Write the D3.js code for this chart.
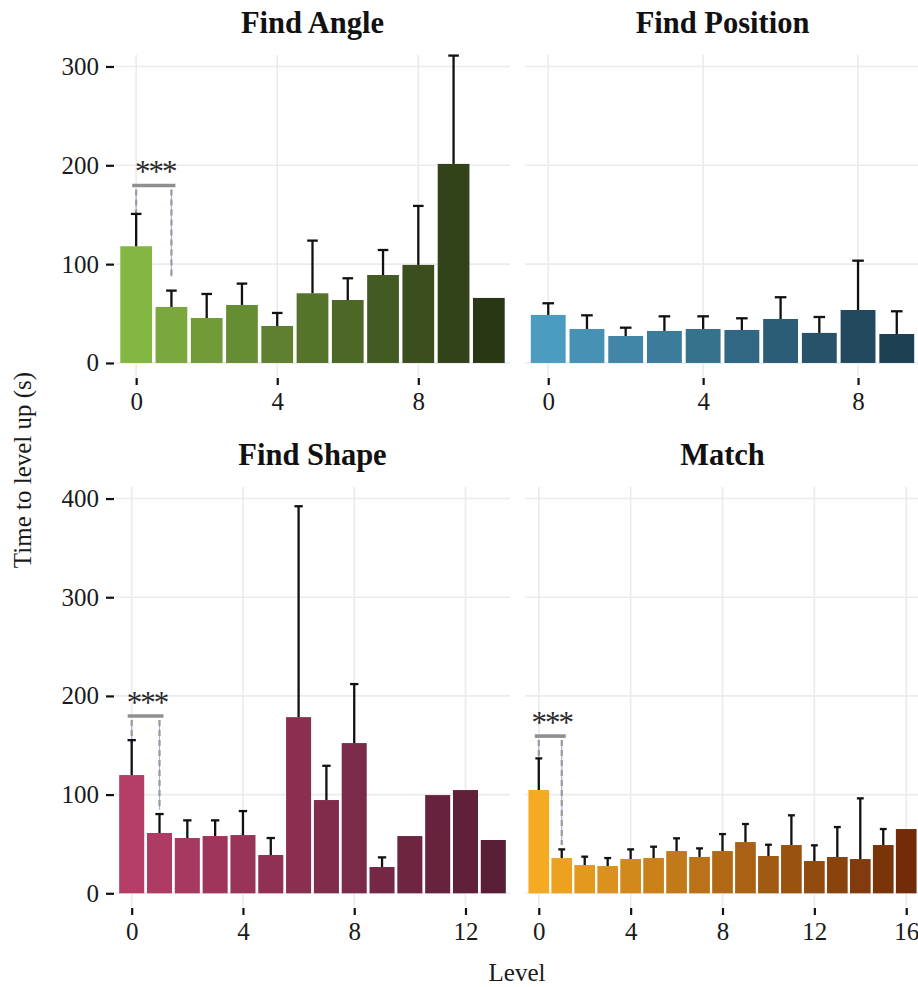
<!DOCTYPE html>
<html>
<head>
<meta charset="utf-8">
<script src="https://cdn.jsdelivr.net/npm/d3@7"></script>
<style>
  body { margin: 0; background: #fff; }
  text { font-family: "Liberation Serif", "Times New Roman", serif; }
</style>
</head>
<body>
<svg id="chart" width="918" height="987"></svg>
<script>
// Mean time to level up (s) per level, and the top of each error bar
const titles = ["Find Angle", "Find Position", "Find Shape", "Match"];

const angleMean  = [118.1, 56.7, 45.5, 58.7, 37.4, 70.5, 63.7, 89.0, 99.2, 201.4, 65.8];
const angleUpper = [150.8, 73.2, 69.8, 80.3, 50.6, 123.8, 85.7, 114.3, 158.9, 311.0, null];

const positionMean  = [48.6, 34.4, 27.3, 32.4, 34.4, 33.4, 44.5, 30.4, 53.6, 29.3];
const positionUpper = [60.4, 48.2, 35.7, 47.2, 47.2, 45.2, 66.5, 46.5, 103.5, 52.3];

const shapeMean  = [119.8, 61.1, 56.0, 58.0, 59.0, 38.8, 178.5, 94.5, 152.2, 26.6, 58.0, 99.5, 104.6, 54.0];
const shapeUpper = [155.2, 80.3, 73.9, 73.9, 83.3, 56.0, 392.2, 129.2, 212.0, 36.4, null, null, null, null];

const matchMean  = [104.6, 35.7, 28.6, 27.6, 34.7, 35.7, 42.8, 36.8, 42.8, 51.9, 37.8, 48.9, 32.7, 36.8, 34.7, 48.9, 65.1];
const matchUpper = [136.7, 44.5, 37.1, 35.7, 44.5, 47.2, 55.7, 45.5, 60.0, 70.2, 49.2, 79.0, 48.6, 67.1, 96.2, 65.1, null];

// Axis ticks
const yTicksTop    = [0, 100, 200, 300];
const yTicksBottom = [0, 100, 200, 300, 400];
const xTicksAngle    = [0, 4, 8];
const xTicksPosition = [0, 4, 8];
const xTicksShape    = [0, 4, 8, 12];
const xTicksMatch    = [0, 4, 8, 12, 16];

// Level 0 vs level 1 comparisons: bracket height and tip ends (s)
const sigLabels   = ["***", null, "***", "***"];
const sigBarY     = [179.6, null, 179.6, 159.3];
const sigTipLeft  = [151.8, null, 152.0, 135.0];
const sigTipRight = [87.3, null, 84.5, 49.0];

// Colour ramps (light to dark) for each game
const rampAngle    = ["#84b642", "#2a3715"];
const rampPosition = ["#4b9cc1", "#1e4053"];
const rampShape    = ["#b43e68", "#591e36"];
const rampMatch    = ["#f4aa22", "#722c09"];

const panels = [
  { title: titles[0], mean: angleMean,    upper: angleUpper,    xTicks: xTicksAngle,    ramp: rampAngle,    row: 0, col: 0 },
  { title: titles[1], mean: positionMean, upper: positionUpper, xTicks: xTicksPosition, ramp: rampPosition, row: 0, col: 1 },
  { title: titles[2], mean: shapeMean,    upper: shapeUpper,    xTicks: xTicksShape,    ramp: rampShape,    row: 1, col: 0 },
  { title: titles[3], mean: matchMean,    upper: matchUpper,    xTicks: xTicksMatch,    ramp: rampMatch,    row: 1, col: 1 }
];

// Panel geometry
const colX = [[115, 510], [525, 920]];
const rowY = [[55, 377], [487, 907]];
const rowDomain = [[-14.2, 311.6], [-13.9, 411.7]];
const rowTicks = [yTicksTop, yTicksBottom];

const svg = d3.select("#chart");
const gridColor = "#ebebeb";

panels.forEach((p, i) => {
  const [x0, x1] = colX[p.col];
  const [yTop, yBot] = rowY[p.row];
  const n = p.mean.length;

  const x = d3.scaleLinear().domain([-0.6, n - 1 + 0.6]).range([x0, x1]);
  const y = d3.scaleLinear().domain(rowDomain[p.row]).range([yBot, yTop]);
  const color = d3.scaleLinear().domain([0, n - 1]).range(p.ramp).interpolate(d3.interpolateLab);

  const g = svg.append("g");

  // grid
  g.selectAll(".hgrid").data(rowTicks[p.row]).join("line")
    .attr("x1", x0).attr("x2", x1)
    .attr("y1", d => y(d)).attr("y2", d => y(d))
    .attr("stroke", gridColor).attr("stroke-width", 1.6);
  g.selectAll(".vgrid").data(p.xTicks).join("line")
    .attr("x1", d => x(d)).attr("x2", d => x(d))
    .attr("y1", yTop).attr("y2", yBot)
    .attr("stroke", gridColor).attr("stroke-width", 1.6);

  // bars
  const bw = 0.9;
  g.selectAll(".bar").data(p.mean).join("rect")
    .attr("x", (d, k) => x(k - bw / 2))
    .attr("width", (d, k) => x(k + bw / 2) - x(k - bw / 2))
    .attr("y", d => y(d))
    .attr("height", d => y(0) - y(d))
    .attr("fill", (d, k) => color(k));

  // significance bracket
  if (sigLabels[i]) {
    const bx0 = x(0), bx1 = x(1), by = y(sigBarY[i]);
    const tips = [[bx0, sigTipLeft[i]], [bx1, sigTipRight[i]]];
    g.selectAll(".tipBase").data(tips).join("line")
      .attr("x1", d => d[0]).attr("x2", d => d[0])
      .attr("y1", by + 4).attr("y2", d => y(d[1]))
      .attr("stroke", "#b2acea").attr("stroke-width", 1.2);
    g.selectAll(".tipDash").data(tips).join("line")
      .attr("x1", d => d[0]).attr("x2", d => d[0])
      .attr("y1", by + 4).attr("y2", d => y(d[1]))
      .attr("stroke", "#9a9a9a").attr("stroke-width", 2.2)
      .attr("stroke-dasharray", "6,4");
    g.append("line")
      .attr("x1", bx0 - 4).attr("x2", bx1 + 4)
      .attr("y1", by).attr("y2", by)
      .attr("stroke", "#8f8f8f").attr("stroke-width", 3.6);
    g.append("text")
      .attr("x", (bx0 + bx1) / 2 + 1.5).attr("y", by - 3)
      .attr("text-anchor", "middle")
      .attr("font-family", "DejaVu Serif, serif")
      .attr("font-size", 31).attr("letter-spacing", -2).attr("fill", "#2a2a2a")
      .text(sigLabels[i]);
  }

  // error bars (upper half only)
  const errs = p.mean.map((m, k) => ({ k, m, u: p.upper[k] })).filter(d => d.u != null);
  const capHalf = 0.15;
  g.selectAll(".err").data(errs).join("line")
    .attr("x1", d => x(d.k)).attr("x2", d => x(d.k))
    .attr("y1", d => y(d.m)).attr("y2", d => y(d.u))
    .attr("stroke", "#111").attr("stroke-width", 2.3);
  g.selectAll(".cap").data(errs).join("line")
    .attr("x1", d => x(d.k - capHalf)).attr("x2", d => x(d.k + capHalf))
    .attr("y1", d => y(d.u)).attr("y2", d => y(d.u))
    .attr("stroke", "#111").attr("stroke-width", 2.3);

  // x axis
  const xAxis = d3.axisBottom(x).tickValues(p.xTicks).tickFormat(d3.format("d"))
    .tickSize(7).tickPadding(7);
  const gx = g.append("g").attr("transform", `translate(0,${yBot + 1})`).call(xAxis);
  gx.select(".domain").remove();
  gx.selectAll(".tick line").attr("stroke", "#111").attr("stroke-width", 2.2);
  gx.selectAll(".tick text").attr("font-size", 25).attr("fill", "#1a1a1a")
    .attr("font-family", "Liberation Serif, serif");

  // y axis (left column only)
  if (p.col === 0) {
    const yAxis = d3.axisLeft(y).tickValues(rowTicks[p.row]).tickFormat(d3.format("d"))
      .tickSize(8).tickPadding(7);
    const gy = g.append("g").attr("transform", `translate(${x0 - 1},0)`).call(yAxis);
    gy.select(".domain").remove();
    gy.selectAll(".tick line").attr("stroke", "#111").attr("stroke-width", 2.2);
    gy.selectAll(".tick text").attr("font-size", 25).attr("fill", "#1a1a1a")
      .attr("font-family", "Liberation Serif, serif");
  }

  // panel title
  g.append("text")
    .attr("x", (x0 + x1) / 2).attr("y", yTop - 22)
    .attr("text-anchor", "middle")
    .attr("font-size", 30.5).attr("font-weight", "bold").attr("fill", "#111")
    .text(p.title);
});

// axis titles
svg.append("text")
  .attr("x", 517).attr("y", 981)
  .attr("text-anchor", "middle")
  .attr("font-size", 25).attr("fill", "#1a1a1a")
  .text("Level");

svg.append("text")
  .attr("transform", "translate(31,470) rotate(-90)")
  .attr("text-anchor", "middle")
  .attr("font-size", 25).attr("fill", "#1a1a1a")
  .text("Time to level up (s)");
</script>
</body>
</html>
